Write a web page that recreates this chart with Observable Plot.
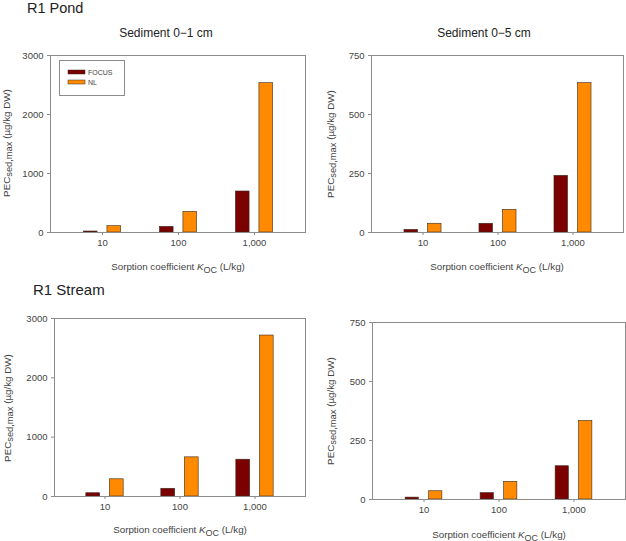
<!DOCTYPE html>
<html>
<head>
<meta charset="utf-8">
<script src="https://cdn.jsdelivr.net/npm/d3@7"></script>
<script src="https://cdn.jsdelivr.net/npm/@observablehq/plot@0.6"></script>
<style>
  html, body { margin: 0; padding: 0; background: #fff; }
  #root { position: relative; width: 626px; height: 541px; overflow: hidden; background: #fff;
          font-family: "Liberation Sans", Arial, sans-serif; }
  .panel { position: absolute; }
  #overlay { position: absolute; left: 0; top: 0; pointer-events: none; }
</style>
</head>
<body>
<div id="root"></div>
<script>
// ---- data ----
const kocLabels = ["10", "100", "1,000"];
const seriesNames = ["FOCUS", "NL"];
const seriesColors = ["#7b0000", "#ff8a00"];

const pondSed1Focus = [17, 96, 695];
const pondSed1NL = [107, 350, 2531];
const pondSed5Focus = [11, 37, 240];
const pondSed5NL = [37, 96, 633];
const streamSed1Focus = [55, 130, 620];
const streamSed1NL = [290, 660, 2713];
const streamSed5Focus = [8, 27, 141];
const streamSed5NL = [35, 75, 333];

const yTicksSed1 = [0, 1000, 2000, 3000];
const yTicksSed5 = [0, 250, 500, 750];

const pondTitle = "R1 Pond";
const streamTitle = "R1 Stream";
const sedTitles = ["Sediment 0\u22121 cm", "Sediment 0\u22125 cm"];

// ---- layout ----
const root = document.getElementById("root");
const FONT = '"Liberation Sans", Arial, sans-serif';
const frameColor = "#8c8c8c";

function panel({left, top, width, height, ml, mr, mt, mb, focus, nl, yTicks}) {
  const data = kocLabels.flatMap((k, i) => [
    {koc: k, series: seriesNames[0], value: focus[i]},
    {koc: k, series: seriesNames[1], value: nl[i]}
  ]);
  const po = 0.17;
  const step = (width - ml - mr) / (kocLabels.length + 2 * po);
  const barW = 14;
  const inset = (step - barW) / 2;
  const off = 11.75;
  const p = Plot.plot({
    width, height,
    marginLeft: ml, marginRight: mr, marginTop: mt, marginBottom: mb,
    style: {fontFamily: FONT, fontSize: "9.5px", color: "#444", background: "transparent"},
    x: {type: "band", domain: kocLabels, paddingInner: 0, paddingOuter: po},
    y: {domain: [0, yTicks[yTicks.length - 1]]},
    color: {domain: seriesNames, range: seriesColors},
    marks: [
      Plot.barY(data.filter(d => d.series === seriesNames[0]), {
        x: "koc", y: "value", fill: "series", stroke: "#3b2a20", strokeWidth: 0.6,
        insetLeft: inset, insetRight: inset, dx: -off
      }),
      Plot.barY(data.filter(d => d.series === seriesNames[1]), {
        x: "koc", y: "value", fill: "series", stroke: "#3b2a20", strokeWidth: 0.6,
        insetLeft: inset, insetRight: inset, dx: off
      }),
      Plot.frame({stroke: frameColor, strokeWidth: 1}),
      Plot.axisX({tickSize: 3, tickPadding: 4, label: null, stroke: frameColor, fill: "#444"}),
      Plot.axisY({ticks: yTicks, tickSize: 3, tickPadding: 4, label: null,
                  tickFormat: d3.format("d"), stroke: frameColor, fill: "#444"})
    ]
  });
  p.classList.add("panel");
  p.style.left = left + "px";
  p.style.top = top + "px";
  root.appendChild(p);
}

panel({left: 0, top: 40, width: 313, height: 235, ml: 50, mr: 8, mt: 15, mb: 43,
       focus: pondSed1Focus, nl: pondSed1NL, yTicks: yTicksSed1});
panel({left: 313, top: 40, width: 313, height: 235, ml: 58, mr: 3, mt: 15, mb: 43,
       focus: pondSed5Focus, nl: pondSed5NL, yTicks: yTicksSed5});
panel({left: 0, top: 300, width: 313, height: 241, ml: 54, mr: 8, mt: 18, mb: 45,
       focus: streamSed1Focus, nl: streamSed1NL, yTicks: yTicksSed1});
panel({left: 313, top: 300, width: 313, height: 241, ml: 59, mr: 1, mt: 22, mb: 42,
       focus: streamSed5Focus, nl: streamSed5NL, yTicks: yTicksSed5});

// ---- text overlay ----
const svg = d3.select(root).append("svg").attr("id", "overlay")
  .attr("width", 626).attr("height", 541)
  .style("font-family", FONT);

function title(x, y, txt, size, anchor) {
  svg.append("text").attr("x", x).attr("y", y).attr("font-size", size)
    .attr("fill", "#222").attr("text-anchor", anchor || "start").text(txt);
}
title(27, 12.5, pondTitle, 14.5);
title(33, 294.5, streamTitle, 15);
title(166, 37, sedTitles[0], 12, "middle");
title(484, 37, sedTitles[1], 12, "middle");

function xLabel(cx, y) {
  const t = svg.append("text").attr("x", cx).attr("y", y).attr("font-size", 9.8)
    .attr("fill", "#444").attr("text-anchor", "middle");
  t.append("tspan").text("Sorption coefficient ");
  t.append("tspan").attr("font-style", "italic").text("K");
  t.append("tspan").attr("dy", 2.5).attr("font-size", 9).text("OC");
  t.append("tspan").attr("dy", -2.5).text(" (L/kg)");
}
xLabel(178, 270);
xLabel(497, 270);
xLabel(180, 533);
xLabel(499, 538);

function yLabel(cx, cy) {
  const t = svg.append("text").attr("transform", `translate(${cx},${cy}) rotate(-90)`)
    .attr("font-size", 9.8).attr("fill", "#444").attr("text-anchor", "middle")
    .attr("dominant-baseline", "central");
  t.append("tspan").text("PEC");
  t.append("tspan").attr("dy", 3).attr("font-size", 9.3).text("sed,max");
  t.append("tspan").attr("dy", -3).text(" (\u00b5g/kg DW)");
}
yLabel(6, 143);
yLabel(330, 144);
yLabel(7, 408);
yLabel(330, 411);

// ---- legend (top-left panel) ----
const lg = svg.append("g");
lg.append("rect").attr("x", 59.5).attr("y", 60.5).attr("width", 65).attr("height", 35)
  .attr("fill", "#fff").attr("stroke", frameColor);
seriesNames.forEach((s, i) => {
  lg.append("rect").attr("x", 68).attr("y", 70 + i * 10).attr("width", 17).attr("height", 4)
    .attr("fill", seriesColors[i]).attr("stroke", "#3b2a20").attr("stroke-width", 0.5);
  lg.append("text").attr("x", 88).attr("y", 75 + i * 10).attr("font-size", 7)
    .attr("fill", "#444").text(s);
});
</script>
</body>
</html>
